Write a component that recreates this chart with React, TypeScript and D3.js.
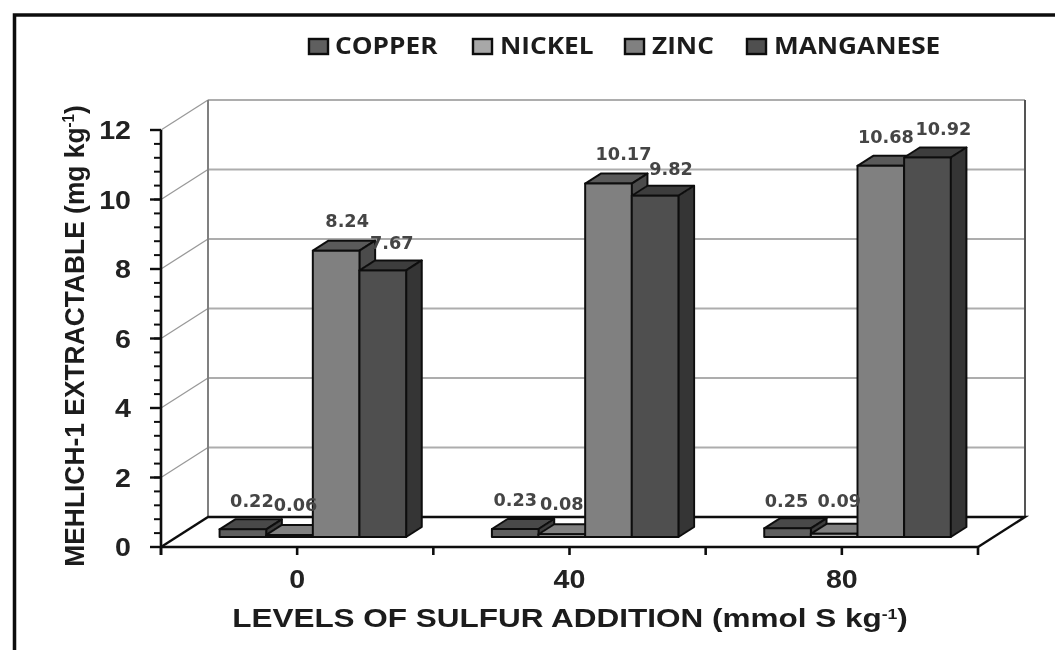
import * as d3 from "d3";

const categories = ["0", "40", "80"];
const seriesNames = ["COPPER", "NICKEL", "ZINC", "MANGANESE"];
const copper = [0.22, 0.23, 0.25];
const nickel = [0.06, 0.08, 0.09];
const zinc = [8.24, 10.17, 10.68];
const manganese = [7.67, 9.82, 10.92];
const seriesValues = [copper, nickel, zinc, manganese];
const yTicks = [0, 2, 4, 6, 8, 10, 12];
const minorTicks = d3.range(0, 12.01, 0.4);

// front, top, side shades per series
const shades = [
  ["#5f5f5f", "#484848", "#3c3c3c"],
  ["#a8a8a8", "#808080", "#707070"],
  ["#808080", "#5a5a5a", "#4c4c4c"],
  ["#505050", "#3c3c3c", "#343434"],
];

// label offset from the bar's front centre and top: [dx, dy], by group then series
const labelOffset = [
  [[9, -22], [6, -24], [11, -24], [9, -21]],
  [[0, -23], [0, -24], [15, -24], [16, -21]],
  [[-1, -21], [5, -27], [5, -23], [16, -23]],
];

// legend layout
const legendSwatchX = [308, 472, 624, 746];
const legendTextX = [335, 500, 652, 774];

const x0 = d3.scaleBand<string>().domain(categories).range([161, 978]);
const x1 = d3
  .scaleBand<string>()
  .domain(seriesNames)
  .range([0, x0.bandwidth()])
  .paddingOuter(0.92)
  .paddingInner(0);
const y = d3.scaleLinear().domain([0, 12]).range([547, 130]);

const wallDx = 47;
const wallDy = -30;
const barDx = wallDx / 3;
const barDy = wallDy / 3;
const unit = y(0) - y(1);

const font = "'Liberation Sans', Arial, sans-serif";

export default function App() {
  const xTicks = d3.range(0, 7).map((i) => 161 + ((978 - 161) * i) / 6);
  const left = x0.range()[0];
  const right = x0.range()[1];

  return (
    <svg
      width={1055}
      height={650}
      style={{ position: "absolute", left: 0, top: 0, background: "#fff" }}
    >
      <defs>
        <filter id="soft" x="-5%" y="-5%" width="110%" height="110%">
          <feGaussianBlur stdDeviation="0.6" />
        </filter>
      </defs>
      <g filter="url(#soft)">
        <path d="M14.5,652 V15 H1057" fill="none" stroke="#111" strokeWidth={3.5} />

        {/* walls and gridlines */}
        {yTicks.filter((t) => t > 0).map((t) => (
          <g key={t} stroke="#adadad" strokeWidth={2} fill="none">
            <line x1={left} y1={y(t)} x2={left + wallDx} y2={y(t) + wallDy} stroke="#999" strokeWidth={1.3} />
            <line x1={left + wallDx} y1={y(t) + wallDy} x2={right + wallDx} y2={y(t) + wallDy} />
          </g>
        ))}
        <line x1={left + wallDx} y1={y(12) + wallDy} x2={left + wallDx} y2={y(0) + wallDy} stroke="#808080" strokeWidth={2} />
        <line x1={right + wallDx} y1={y(12) + wallDy} x2={right + wallDx} y2={y(0) + wallDy} stroke="#555" strokeWidth={2} />

        {/* floor */}
        <path
          d={`M${left},${y(0)} L${left + wallDx},${y(0) + wallDy} H${right + wallDx} L${right},${y(0)}`}
          fill="none"
          stroke="#111"
          strokeWidth={2.4}
        />

        {/* y axis */}
        <line x1={left} y1={y(12)} x2={left} y2={y(0) + 8} stroke="#111" strokeWidth={2.6} />
        {minorTicks.map((t) => (
          <line key={t} x1={left - 7} x2={left} y1={y(t)} y2={y(t)} stroke="#111" strokeWidth={2} />
        ))}
        {yTicks.map((t) => (
          <g key={t}>
            <line x1={left - 11} x2={left} y1={y(t)} y2={y(t)} stroke="#111" strokeWidth={2.4} />
            <text
              transform={`translate(131,${y(t) + 9}) scale(1.1,1)`}
              textAnchor="end"
              fontFamily={font}
              fontWeight="bold"
              fontSize={26}
              fill="#222"
            >
              {t}
            </text>
          </g>
        ))}

        {/* x axis */}
        <line x1={left} x2={right} y1={y(0)} y2={y(0)} stroke="#111" strokeWidth={2.6} />
        {xTicks.map((t) => (
          <line key={t} x1={t} x2={t} y1={y(0)} y2={y(0) + 8} stroke="#111" strokeWidth={2.6} />
        ))}
        {categories.map((c) => (
          <text
            key={c}
            transform={`translate(${(x0(c) as number) + x0.bandwidth() / 2},588) scale(1.1,1)`}
            textAnchor="middle"
            fontFamily={font}
            fontWeight="bold"
            fontSize={26}
            fill="#222"
          >
            {c}
          </text>
        ))}

        {/* bars */}
        {categories.map((c, ci) =>
          seriesNames.map((s, si) => {
            const v = seriesValues[si][ci];
            const bx = (x0(c) as number) + (x1(s) as number) + barDx;
            const w = x1.bandwidth();
            const base = y(0) + barDy;
            const top = base - v * unit;
            const [front, topFill, side] = shades[si];
            return (
              <g key={s} stroke="#111" strokeWidth={2} strokeLinejoin="round">
                <path
                  d={`M${bx},${top} l${barDx},${barDy} h${w} l${-barDx},${-barDy} Z`}
                  fill={topFill}
                />
                <path
                  d={`M${bx + w},${top} l${barDx},${barDy} V${base + barDy} l${-barDx},${-barDy} Z`}
                  fill={side}
                />
                <rect x={bx} y={top} width={w} height={base - top} fill={front} />
              </g>
            );
          })
        )}

        {/* value labels */}
        {categories.map((c, ci) =>
          seriesNames.map((s, si) => {
            const v = seriesValues[si][ci];
            const bx = (x0(c) as number) + (x1(s) as number) + barDx;
            const top = y(0) + barDy - v * unit;
            const [dx, dy] = labelOffset[ci][si];
            return (
              <text
                key={s}
                transform={`translate(${bx + x1.bandwidth() / 2 + dx},${top + dy}) scale(1.04,1)`}
                textAnchor="middle"
                fontFamily="'DejaVu Sans', Verdana, sans-serif"
                fontWeight="bold"
                fontSize={17}
                fill="#444"
              >
                {v.toFixed(2)}
              </text>
            );
          })
        )}

        {/* legend */}
        {seriesNames.map((s, i) => (
          <g key={s}>
            <rect x={legendSwatchX[i] + 1} y={39} width={19} height={15} fill={shades[i][0]} stroke="#111" strokeWidth={2.4} />
            <text
              transform={`translate(${legendTextX[i]},54) scale(1.14,1)`}
              fontFamily="'Open Sans', 'Noto Sans', sans-serif"
              fontWeight="700"
              fontSize={23}
              fill="#1c1c1c"
            >
              {s}
            </text>
          </g>
        ))}

        {/* axis titles */}
        <text
          transform="translate(570,627) scale(1.26,1)"
          textAnchor="middle"
          fontFamily={font}
          fontWeight="bold"
          fontSize={25}
          fill="#1a1a1a"
        >
          LEVELS OF SULFUR ADDITION (mmol S kg
          <tspan dy={-8} fontSize={14}>-1</tspan>
          <tspan dy={8}>)</tspan>
        </text>
        <text
          transform="translate(84,336) scale(1.07,1) rotate(-90)"
          textAnchor="middle"
          fontFamily={font}
          fontWeight="bold"
          fontSize={26.4}
          fill="#1a1a1a"
        >
          MEHLICH-1 EXTRACTABLE (mg kg
          <tspan dy={-9} fontSize={15}>-1</tspan>
          <tspan dy={9}>)</tspan>
        </text>
      </g>
    </svg>
  );
}
